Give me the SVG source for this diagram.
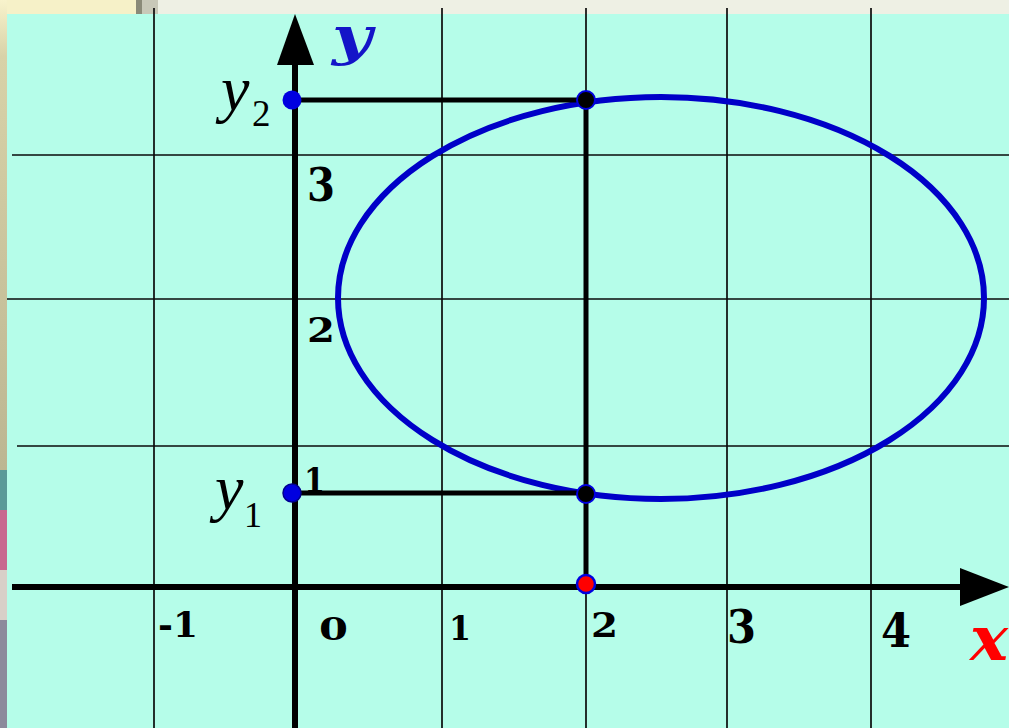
<svg xmlns="http://www.w3.org/2000/svg" width="1009" height="728" viewBox="0 0 1009 728">
<style>
.grid{stroke:#0a0a0a;stroke-width:1.7;fill:none}
.axis{stroke:#000;stroke-width:6;fill:none}
.guide{stroke:#000;stroke-width:5;fill:none}
.num{font-family:"DejaVu Serif",serif;font-weight:bold;fill:#000}
.var{font-family:"Liberation Serif","Times New Roman",serif;font-style:italic;fill:#000}
.sub{font-family:"Liberation Serif","Times New Roman",serif;fill:#000}
</style>
<defs>
<linearGradient id="strip" x1="0" y1="0" x2="0" y2="1">
<stop offset="0" stop-color="#f8f3cc"/>
<stop offset="0.12" stop-color="#d8d2a8"/>
<stop offset="1" stop-color="#bcb692"/>
</linearGradient>
</defs>
<rect x="0" y="0" width="1009" height="728" fill="#eef0e4"/>
<rect x="0" y="0" width="136" height="14" fill="#f6f1c8"/>
<rect x="136" y="0" width="6" height="14" fill="#8a8a78"/>
<rect x="142" y="0" width="16" height="14" fill="#c8c8b8"/>
<rect x="0" y="0" width="7" height="470" fill="url(#strip)"/>
<rect x="0" y="470" width="7" height="40" fill="#5a9a98"/>
<rect x="0" y="510" width="7" height="60" fill="#c86890"/>
<rect x="0" y="570" width="7" height="50" fill="#d8d0c8"/>
<rect x="0" y="620" width="7" height="108" fill="#8c8a9c"/>
<rect x="7" y="14" width="1002" height="714" fill="#b5fde9"/>
<g id="grid">
<line class="grid" x1="154" y1="8" x2="154" y2="728"/>
<line class="grid" x1="442" y1="8" x2="442" y2="728"/>
<line class="grid" x1="586" y1="8" x2="586" y2="728"/>
<line class="grid" x1="727" y1="8" x2="727" y2="728"/>
<line class="grid" x1="871" y1="8" x2="871" y2="728"/>
<line class="grid" x1="12" y1="155" x2="1009" y2="155"/>
<line class="grid" x1="7" y1="299" x2="1009" y2="299"/>
<line class="grid" x1="17" y1="446" x2="1009" y2="446"/>
</g>
<g id="ellipse">
<ellipse cx="661" cy="298" rx="323" ry="201" fill="none" stroke="#0000c8" stroke-width="6"/>
</g>
<g id="connectors">
<line class="axis" x1="12" y1="587" x2="962" y2="587"/>
<polygon points="960,568 1009,587 960,606" fill="#000"/>
<line class="axis" x1="295" y1="728" x2="295" y2="62"/>
<polygon points="277,65 295,14 314,65" fill="#000"/>
<line class="guide" x1="294" y1="100" x2="586" y2="100"/>
<line class="guide" x1="294" y1="493" x2="586" y2="493"/>
<line class="guide" x1="586" y1="100" x2="586" y2="587"/>
</g>
<g id="point-y2"><circle cx="292" cy="100" r="9.5" fill="#0000e0"/></g>
<g id="point-y1"><circle cx="292" cy="493" r="9" fill="#0000e0" stroke="#000090" stroke-width="1.5"/></g>
<g id="point-top"><circle cx="586" cy="100" r="9" fill="#000" stroke="#0000e0" stroke-width="2"/></g>
<g id="point-bottom"><circle cx="586" cy="494" r="9" fill="#000" stroke="#0000e0" stroke-width="2"/></g>
<g id="point-x"><circle cx="586" cy="584" r="9" fill="#ff0000" stroke="#0000e0" stroke-width="2.5"/></g>
<g id="labels">
<text x="332" y="54" font-family="'DejaVu Serif',serif" font-weight="bold" font-style="italic" font-size="52" fill="#1414c8" textLength="40" lengthAdjust="spacingAndGlyphs">y</text>
<text x="970" y="660" font-family="'DejaVu Serif',serif" font-weight="bold" font-style="italic" font-size="62" fill="#ff0000" textLength="38" lengthAdjust="spacingAndGlyphs">x</text>
<text class="var" x="221" y="110" font-size="64">y</text>
<text class="sub" x="252" y="126" font-size="37">2</text>
<text class="var" x="215" y="509" font-size="64">y</text>
<text class="sub" x="244" y="527" font-size="36">1</text>
<text class="num" x="307" y="201" font-size="46" textLength="28" lengthAdjust="spacingAndGlyphs">3</text>
<text class="num" x="307" y="342" font-size="34" textLength="28" lengthAdjust="spacingAndGlyphs">2</text>
<text class="num" x="304" y="492" font-size="34" textLength="21" lengthAdjust="spacingAndGlyphs">1</text>
<text class="num" x="158" y="637" font-size="36" textLength="40" lengthAdjust="spacingAndGlyphs">-1</text>
<text class="num" x="319" y="640" font-size="32" textLength="29" lengthAdjust="spacingAndGlyphs">0</text>
<text class="num" x="449" y="640" font-size="34" textLength="22" lengthAdjust="spacingAndGlyphs">1</text>
<text class="num" x="591" y="637" font-size="33" textLength="27" lengthAdjust="spacingAndGlyphs">2</text>
<text class="num" x="727" y="643" font-size="47" textLength="29" lengthAdjust="spacingAndGlyphs">3</text>
<text class="num" x="881" y="647" font-size="47" textLength="30" lengthAdjust="spacingAndGlyphs">4</text>
</g>
</svg>
